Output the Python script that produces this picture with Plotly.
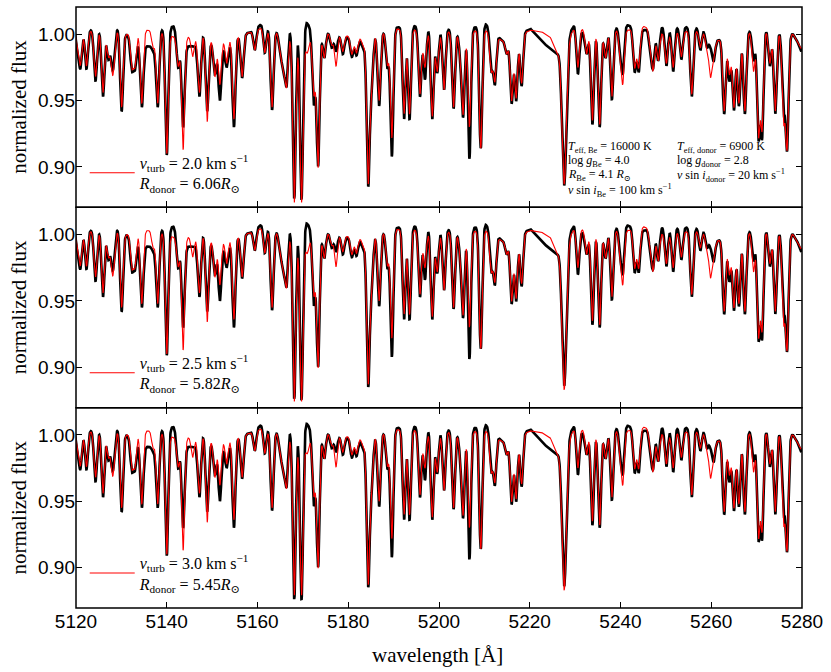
import numpy as np
import plotly.graph_objects as go
from plotly.subplots import make_subplots

# absorption lines: centre [A], minimum flux of the
# observed (black) and model (red) spectrum, gaussian width [A]
LINE_WL = [
    5120.4, 5121.0, 5122.3, 5124.3, 5125.95, 5127.1, 5128.1, 5130.05, 5132.3, 5133.0,
    5134.5, 5137.0, 5138.0, 5140.0, 5142.5, 5143.6, 5145.7, 5147.2, 5148.9, 5150.6,
    5151.7, 5153.2, 5154.8, 5156.6, 5159.4, 5161.6, 5163.2, 5165.0, 5165.7, 5166.4,
    5168.1, 5169.7, 5171.0, 5172.4, 5173.35, 5174.7, 5176.35, 5177.3, 5178.8, 5180.8,
    5181.8, 5183.3, 5184.4, 5185.2, 5186.8, 5188.6, 5189.6, 5192.3, 5193.5, 5195.8,
    5196.9, 5198.5, 5199.6, 5201.1, 5203.2, 5204.6, 5205.3, 5206.7, 5209.2, 5211.5,
    5212.3, 5214.9, 5216.0, 5217.0, 5218.2, 5227.6, 5230.6, 5232.5, 5233.8, 5235.4,
    5236.7, 5238.1, 5239.9, 5240.5, 5243.1, 5244.0, 5246.6, 5247.2, 5248.3, 5250.1,
    5251.6, 5253.4, 5255.7, 5257.6, 5259.0, 5259.8, 5260.5, 5262.85, 5264.0, 5265.0,
    5266.1, 5267.4, 5269.3, 5270.4, 5271.2, 5272.9, 5274.1, 5275.9, 5276.7, 5279.6,
]
OBS_MIN = [
    0.988, 0.977, 0.974, 0.965, 0.953, 0.983, 0.973, 0.942, 0.974, 0.975,
    0.945, 0.988, 0.945, 0.909, 0.975, 0.930, 0.992, 0.953, 0.942, 0.970,
    0.950, 0.975, 0.930, 0.967, 0.988, 0.986, 0.943, 0.986, 0.975, 0.963,
    0.876, 0.876, 1.009, 0.948, 0.901, 0.982, 0.990, 0.987, 0.985, 0.983,
    0.984, 0.990, 0.886, 0.965, 0.946, 0.975, 0.908, 0.936, 0.936, 0.953,
    0.966, 0.936, 0.971, 0.958, 0.944, 0.990, 0.938, 0.906, 0.914, 0.973,
    0.963, 0.985, 0.948, 0.950, 0.961, 0.886, 0.970, 0.985, 0.932, 0.930,
    0.982, 0.951, 0.990, 0.972, 0.972, 0.972, 0.988, 0.977, 0.980, 0.976,
    0.972, 0.981, 0.953, 0.988, 0.990, 0.992, 0.980, 0.940, 0.965, 0.943,
    0.946, 0.940, 0.980, 0.923, 0.924, 0.976, 0.940, 0.945, 0.914, 0.988,
]
MOD_MIN = [
    0.990, 0.979, 0.976, 0.968, 0.956, 0.985, 0.969, 0.945, 0.976, 0.977,
    0.948, 0.990, 0.948, 0.910, 0.976, 0.913, 0.983, 0.956, 0.934, 0.968,
    0.962, 0.978, 0.936, 0.968, 0.988, 0.986, 0.945, 0.986, 0.975, 0.962,
    0.873, 0.873, 0.986, 0.955, 0.900, 0.982, 0.992, 0.976, 0.987, 0.985,
    0.986, 0.992, 0.888, 0.965, 0.950, 0.977, 0.922, 0.940, 0.940, 0.955,
    0.975, 0.938, 0.972, 0.958, 0.945, 0.990, 0.940, 0.930, 0.914, 0.973,
    0.965, 0.985, 0.950, 0.952, 0.963, 0.883, 0.975, 0.985, 0.935, 0.932,
    0.982, 0.953, 0.988, 0.964, 0.975, 0.975, 0.990, 0.975, 0.980, 0.978,
    0.975, 0.983, 0.955, 0.990, 0.990, 0.969, 0.982, 0.942, 0.970, 0.945,
    0.948, 0.942, 0.972, 0.925, 0.930, 0.978, 0.942, 0.936, 0.915, 0.990,
]
LINE_SIGMA = [
    0.32, 0.32, 0.32, 0.34, 0.33, 0.32, 0.42, 0.33, 0.32, 0.32,
    0.33, 0.32, 0.33, 0.33, 0.32, 0.33, 0.32, 0.33, 0.33, 0.32,
    0.33, 0.32, 0.33, 0.34, 0.32, 0.32, 0.33, 0.32, 0.32, 0.32,
    0.34, 0.34, 0.38, 0.33, 0.33, 0.32, 0.32, 0.32, 0.32, 0.32,
    0.32, 0.32, 0.34, 0.30, 0.33, 0.32, 0.33, 0.32, 0.32, 0.33,
    0.32, 0.33, 0.32, 0.33, 0.33, 0.30, 0.33, 0.32, 0.33, 0.32,
    0.32, 0.32, 0.32, 0.32, 0.32, 0.48, 0.32, 0.32, 0.33, 0.33,
    0.32, 0.33, 0.30, 0.32, 0.33, 0.33, 0.32, 0.32, 0.32, 0.33,
    0.33, 0.33, 0.34, 0.32, 0.32, 0.32, 0.32, 0.33, 0.32, 0.33,
    0.32, 0.33, 0.33, 0.32, 0.32, 0.32, 0.33, 0.32, 0.33, 0.32,
]

# pseudo-continuum knots (observed and model)
CONT_WL = [5120, 5129, 5131, 5135.3, 5137.3, 5138.8, 5141.5, 5144.3, 5146.5, 5148,
           5150, 5153, 5156, 5158, 5161, 5164, 5170.8, 5172, 5176, 5183,
           5190, 5197.5, 5205, 5210.2, 5214, 5220.2, 5222.5, 5224.5, 5226, 5229.8,
           5232, 5241.5, 5245, 5249.3, 5258, 5261, 5268.5, 5272.2, 5278, 5280]
CONT_OBS = [1.002, 1.006, 1.000, 0.991, 0.991, 1.004, 1.006, 0.991, 0.991, 1.001,
            0.993, 0.990, 1.000, 1.001, 1.008, 1.002, 1.009, 1.003, 1.001, 0.995,
            1.005, 1.007, 1.002, 1.008, 0.995, 1.004, 0.995, 0.989, 0.985, 1.007,
            1.000, 1.007, 1.003, 1.006, 1.005, 0.995, 1.003, 1.004, 1.000, 0.990]
CONT_MOD = [1.002, 1.004, 1.000, 1.003, 1.003, 1.002, 0.998, 0.998, 0.998, 1.001,
            0.996, 0.996, 1.000, 1.001, 1.005, 1.002, 0.996, 1.001, 1.001, 0.997,
            1.004, 1.003, 1.002, 1.003, 0.995, 1.003, 1.002, 0.998, 0.985, 1.004,
            1.004, 1.003, 1.006, 1.001, 1.003, 0.995, 1.002, 1.003, 1.000, 0.990]

# per-panel model depths of the strongest lines
STRONG_WL = [5168.1, 5169.7, 5227.6]
STRONG_MOD_MIN = [
    [0.873, 0.873, 0.887],
    [0.874, 0.874, 0.883],
    [0.879, 0.879, 0.883],
]

VTURB = ["2.0", "2.5", "3.0"]
R_DONOR = ["6.06", "5.82", "5.45"]

PARAMS_BE = [
    "<i>T</i><sub>eff, Be</sub> = 16000 K",
    "log <i>g</i><sub>Be</sub> = 4.0",
    "<i>R</i><sub>Be</sub> = 4.1 <i>R</i><sub>⊙</sub>",
    "<i>v</i> sin <i>i</i><sub>Be</sub> = 100 km s<sup>−1</sup>",
]
PARAMS_DONOR = [
    "<i>T</i><sub>eff, donor</sub> = 6900 K",
    "log <i>g</i><sub>donor</sub> = 2.8",
    "<i>v</i> sin <i>i</i><sub>donor</sub> = 20 km s<sup>−1</sup>",
]

SERIF = "Liberation Serif, DejaVu Serif, serif"
SANS = "Liberation Sans, Arial, sans-serif"

wl = np.arange(5119.0, 5281.0, 0.04)


def spectrum(cont_levels, mins):
    cont = np.interp(wl, CONT_WL, cont_levels)
    flux = cont.copy()
    for lam, fmin, sig in zip(LINE_WL, mins, LINE_SIGMA):
        c0 = np.interp(lam, CONT_WL, cont_levels)
        depth = max(c0 - fmin, 0.0) / c0
        flux *= 1 - depth * np.exp(-0.5 * ((wl - lam) / sig) ** 2)
    return flux


obs = spectrum(CONT_OBS, OBS_MIN)

fig = make_subplots(rows=3, cols=1, shared_xaxes=True, vertical_spacing=0)

for i in range(3):
    mins = list(MOD_MIN)
    for lam, fmin in zip(STRONG_WL, STRONG_MOD_MIN[i]):
        mins[LINE_WL.index(lam)] = fmin
    mod = spectrum(CONT_MOD, mins)
    leg = "legend" if i == 0 else f"legend{i + 1}"
    fig.add_trace(
        go.Scatter(x=wl, y=obs, mode="lines", line=dict(color="black", width=2.6),
                   showlegend=False, hoverinfo="skip"),
        row=i + 1, col=1,
    )
    fig.add_trace(
        go.Scatter(
            x=wl, y=mod, mode="lines", line=dict(color="#ff0000", width=1.1),
            name=(f"<i>v</i><sub>turb</sub> = {VTURB[i]} km s<sup>−1</sup><br>"
                  f"<i>R</i><sub>donor</sub> = {R_DONOR[i]}<i>R</i><sub>⊙</sub>"),
            legend=leg,
        ),
        row=i + 1, col=1,
    )

axis_common = dict(
    ticks="inside", ticklen=6, tickwidth=1.2, tickcolor="black",
    showline=False, mirror="ticks",
    showgrid=False, zeroline=False,
    tickfont=dict(family=SANS, size=19, color="black"),
)
fig.update_xaxes(range=[5120, 5280], tick0=5120, dtick=20, **axis_common)
fig.update_yaxes(range=[0.8695, 1.0205], tickvals=[0.90, 0.95, 1.00],
                 ticktext=["0.90", "0.95", "1.00"], **axis_common)

# panel frames, drawn on the axis domains so shared edges coincide
shapes = []
for row in range(1, 4):
    sfx = "" if row == 1 else str(row)
    shapes.append(dict(
        type="rect", xref=f"x{sfx} domain", yref=f"y{sfx} domain",
        x0=0, x1=1, y0=0, y1=1, line=dict(color="black", width=1.5),
        fillcolor="rgba(0,0,0,0)", layer="above",
    ))

# legends, one per panel
legend_y = [0.724, 0.391, 0.058]
legends = {}
for i, y in enumerate(legend_y):
    key = "legend" if i == 0 else f"legend{i + 1}"
    legends[key] = dict(
        x=0.012, y=y, xanchor="left", yanchor="middle", itemwidth=45,
        bgcolor="rgba(0,0,0,0)", borderwidth=0,
        font=dict(family=SERIF, size=16, color="black"),
    )

annotations = []
for row, yc in enumerate([0.8335, 0.5, 0.1665]):
    annotations.append(dict(
        text="normalized flux", xref="paper", yref="paper", x=-0.079, y=yc,
        xanchor="center", yanchor="middle", textangle=-90, showarrow=False,
        font=dict(family=SERIF, size=21, color="black"),
    ))
annotations.append(dict(
    text="wavelength [Å]", xref="paper", yref="paper", x=0.498, y=-0.078,
    xanchor="center", yanchor="middle", showarrow=False,
    font=dict(family=SERIF, size=21, color="black"),
))
be_y = [0.9152, 0.9045, 0.8938, 0.8824]
for txt, y in zip(PARAMS_BE, be_y):
    annotations.append(dict(
        text=txt, xref="x", yref="y", x=5228.0, y=y,
        xanchor="left", yanchor="middle", showarrow=False,
        font=dict(family=SERIF, size=12, color="black"),
    ))
for txt, y in zip(PARAMS_DONOR, be_y[:3]):
    annotations.append(dict(
        text=txt, xref="x", yref="y", x=5252.0, y=y,
        xanchor="left", yanchor="middle", showarrow=False,
        font=dict(family=SERIF, size=12, color="black"),
    ))

fig.update_layout(
    width=831, height=672,
    margin=dict(l=76, r=29, t=7, b=64),
    paper_bgcolor="white", plot_bgcolor="white",
    annotations=annotations, shapes=shapes,
    **legends,
)

fig.write_html("out.html", config={"displayModeBar": False},
               post_script="document.body.style.margin='0';")
